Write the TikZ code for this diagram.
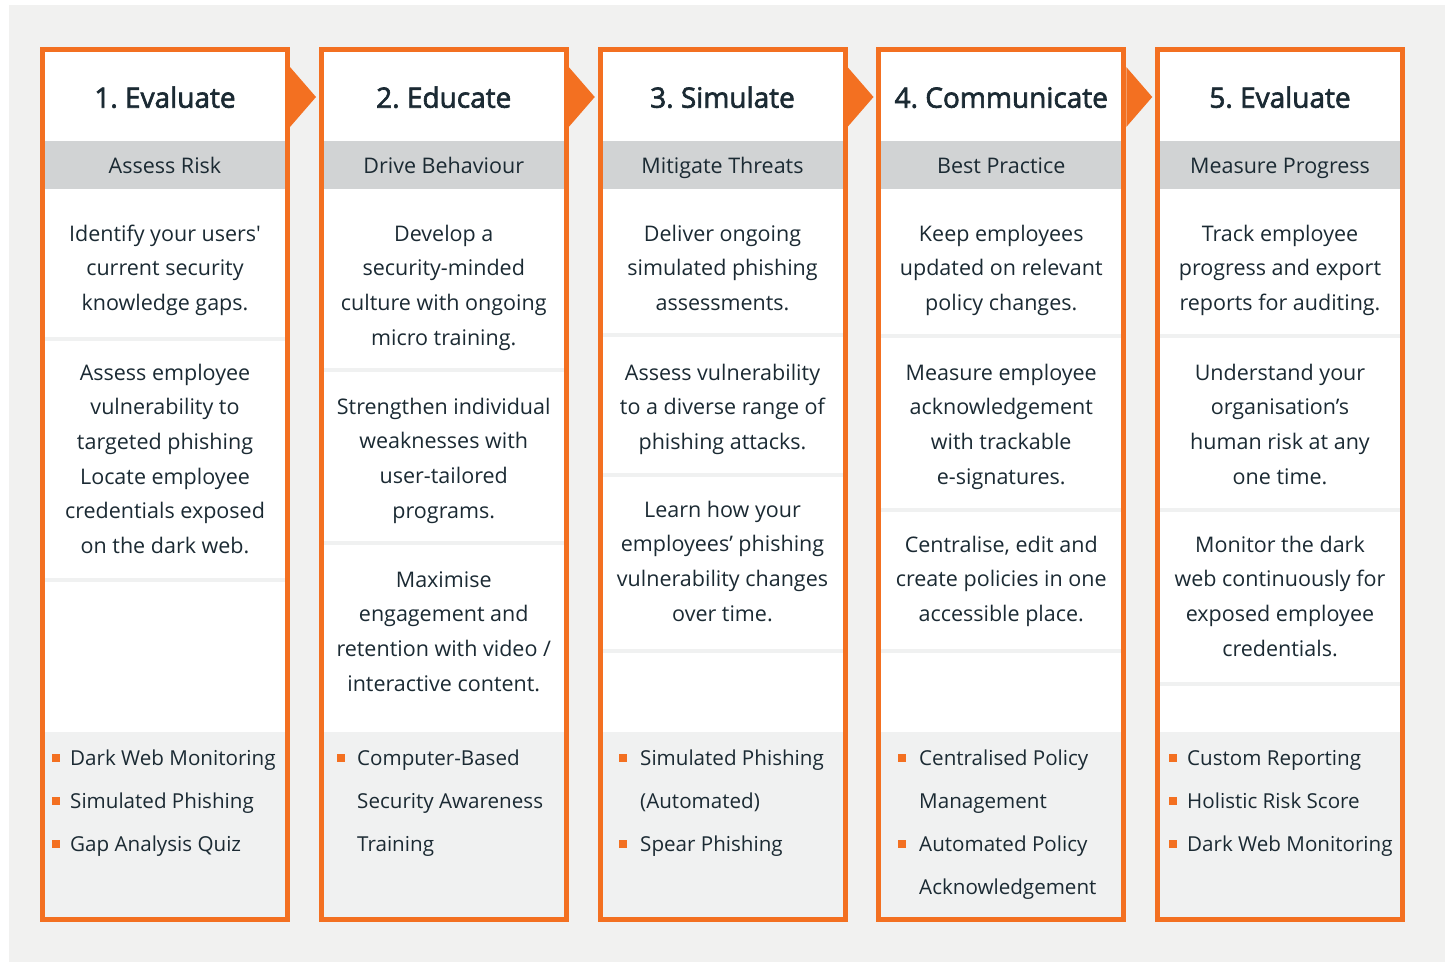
\documentclass[tikz,border=0pt]{standalone}
\usepackage{fontspec}
\setmainfont{Open Sans}[Ligatures=TeXOff]
\newfontfamily\ttlfont{Open Sans}[Ligatures=TeXOff, FakeBold=2.2]
\definecolor{orng}{HTML}{F37021}
\definecolor{bandc}{HTML}{D1D3D4}
\definecolor{lightc}{HTML}{F0F1F1}
\definecolor{bgc}{HTML}{F1F1F0}
\definecolor{txt}{HTML}{1B2A33}
\tikzset{
  ttl/.style={anchor=base, font=\ttlfont\fontsize{28}{34}\selectfont, text=txt, inner sep=0pt},
  subt/.style={anchor=base, font=\fontsize{21.5}{26}\selectfont, text=txt, inner sep=0pt},
  blk/.style={anchor=north, align=center, font=\fontsize{21.5}{34.6}\selectfont, text=txt, inner sep=0pt},
  lst/.style={anchor=north west, align=left, font=\fontsize{20.6}{43}\selectfont, text=txt, inner sep=0pt},
  bul/.style={fill=orng, minimum size=8pt, inner sep=0pt, draw=none, rectangle},
  frame/.style={draw=orng, line width=5pt},
  arr/.style={fill=orng},
  sep/.style={fill=lightc},
}
\newcommand\colbase[1]{%
  \fill[white] (45+#1,52) rectangle (285+#1,732);
  \fill[bandc] (45+#1,141) rectangle (285+#1,189);
  \fill[lightc] (45+#1,732) rectangle (285+#1,917);
}
\newcommand\sepat[2]{\fill[sep] (45+#1,#2-2) rectangle (285+#1,#2+2);}
\newcommand\frameat[1]{\draw[frame] (42.5+#1,49.2) rectangle (287.5+#1,919.2);}
\begin{document}
\frenchspacing
\begin{tikzpicture}[x=1pt,y=-1pt]
\useasboundingbox (0,0) rectangle (1454,962);
\fill[bgc] (9,5) rectangle (1445,962);

% column backgrounds
\colbase{0}
\colbase{278.75}
\colbase{557.5}
\colbase{836.25}
\colbase{1115}

% separators
\sepat{0}{339}\sepat{0}{580}
\sepat{278.75}{370}\sepat{278.75}{543}
\sepat{557.5}{335}\sepat{557.5}{475}\sepat{557.5}{651}
\sepat{836.25}{335.5}\sepat{836.25}{510}\sepat{836.25}{651}
\sepat{1115}{335.5}\sepat{1115}{510}\sepat{1115}{684}

% frames
\frameat{0}
\frameat{278.75}
\frameat{557.5}
\frameat{836.25}
\frameat{1115}

% arrows between columns
\fill[arr] (290,67) -- (316,97) -- (290,127) -- cycle;
\fill[arr] (568.75,67) -- (594.75,97) -- (568.75,127) -- cycle;
\fill[arr] (847.5,67) -- (873.5,97) -- (847.5,127) -- cycle;
\fill[arr] (1126.25,67) -- (1152.25,97) -- (1126.25,127) -- cycle;

% ---------- column 1
\node[ttl] (t1) at (165,107.7) {1. Evaluate};
\node[subt] (s1) at (165,173.3) {Assess Risk};
\node[blk] (c1a) at (165,241-24.22) {\strut Identify your users'\\current security\\knowledge gaps.};
\node[blk] (c1b) at (165,380-24.22) {\strut Assess employee\\vulnerability to\\targeted phishing\\Locate employee\\credentials exposed\\on the dark web.};
\node[lst] (l1) at (70,765-30.1) {\strut Dark Web Monitoring\\Simulated Phishing\\Gap Analysis Quiz};
\node[bul] (p1a) at (56,758) {};
\node[bul] (p1b) at (56,801) {};
\node[bul] (p1c) at (56,844) {};

% ---------- column 2
\node[ttl] (t2) at (443.75,107.7) {2. Educate};
\node[subt] (s2) at (443.75,173.3) {Drive Behaviour};
\node[blk] (c2a) at (443.75,241-24.22) {\strut Develop a\\security-minded\\culture with ongoing\\micro training.};
\node[blk] (c2b) at (443.75,414-24.22) {\strut Strengthen individual\\weaknesses with\\user-tailored\\programs.};
\node[blk] (c2c) at (443.75,587-24.22) {\strut Maximise\\engagement and\\retention with video /\\interactive content.};
\node[lst] (l2) at (357,765-30.1) {\strut Computer-Based\\Security Awareness\\Training};
\node[bul] (p2a) at (341,758) {};

% ---------- column 3
\node[ttl] (t3) at (722.5,107.7) {3. Simulate};
\node[subt] (s3) at (722.5,173.3) {Mitigate Threats};
\node[blk] (c3a) at (722.5,241-24.22) {\strut Deliver ongoing\\simulated phishing\\assessments.};
\node[blk] (c3b) at (722.5,380-24.22) {\strut Assess vulnerability\\to a diverse range of\\phishing attacks.};
\node[blk] (c3c) at (722.5,517-24.22) {\strut Learn how your\\employees’ phishing\\vulnerability changes\\over time.};
\node[lst] (l3) at (640,765-30.1) {\strut Simulated Phishing\\(Automated)\\Spear Phishing};
\node[bul] (p3a) at (623,758) {};
\node[bul] (p3b) at (623,844) {};

% ---------- column 4
\node[ttl] (t4) at (1001.25,107.7) {4. Communicate};
\node[subt] (s4) at (1001.25,173.3) {Best Practice};
\node[blk] (c4a) at (1001.25,241-24.22) {\strut Keep employees\\updated on relevant\\policy changes.};
\node[blk] (c4b) at (1001.25,380-24.22) {\strut Measure employee\\acknowledgement\\with trackable\\e-signatures.};
\node[blk] (c4c) at (1001.25,552-24.22) {\strut Centralise, edit and\\create policies in one\\accessible place.};
\node[lst] (l4) at (919,765-30.1) {\strut Centralised Policy\\Management\\Automated Policy\\Acknowledgement};
\node[bul] (p4a) at (902,758) {};
\node[bul] (p4b) at (902,844) {};

% ---------- column 5
\node[ttl] (t5) at (1280,107.7) {5. Evaluate};
\node[subt] (s5) at (1280,173.3) {Measure Progress};
\node[blk] (c5a) at (1280,241-24.22) {\strut Track employee\\progress and export\\reports for auditing.};
\node[blk] (c5b) at (1280,380-24.22) {\strut Understand your\\organisation’s\\human risk at any\\one time.};
\node[blk] (c5c) at (1280,552-24.22) {\strut Monitor the dark\\web continuously for\\exposed employee\\credentials.};
\node[lst] (l5) at (1187,765-30.1) {\strut Custom Reporting\\Holistic Risk Score\\Dark Web Monitoring};
\node[bul] (p5a) at (1173,758) {};
\node[bul] (p5b) at (1173,801) {};
\node[bul] (p5c) at (1173,844) {};
\end{tikzpicture}
\end{document}
